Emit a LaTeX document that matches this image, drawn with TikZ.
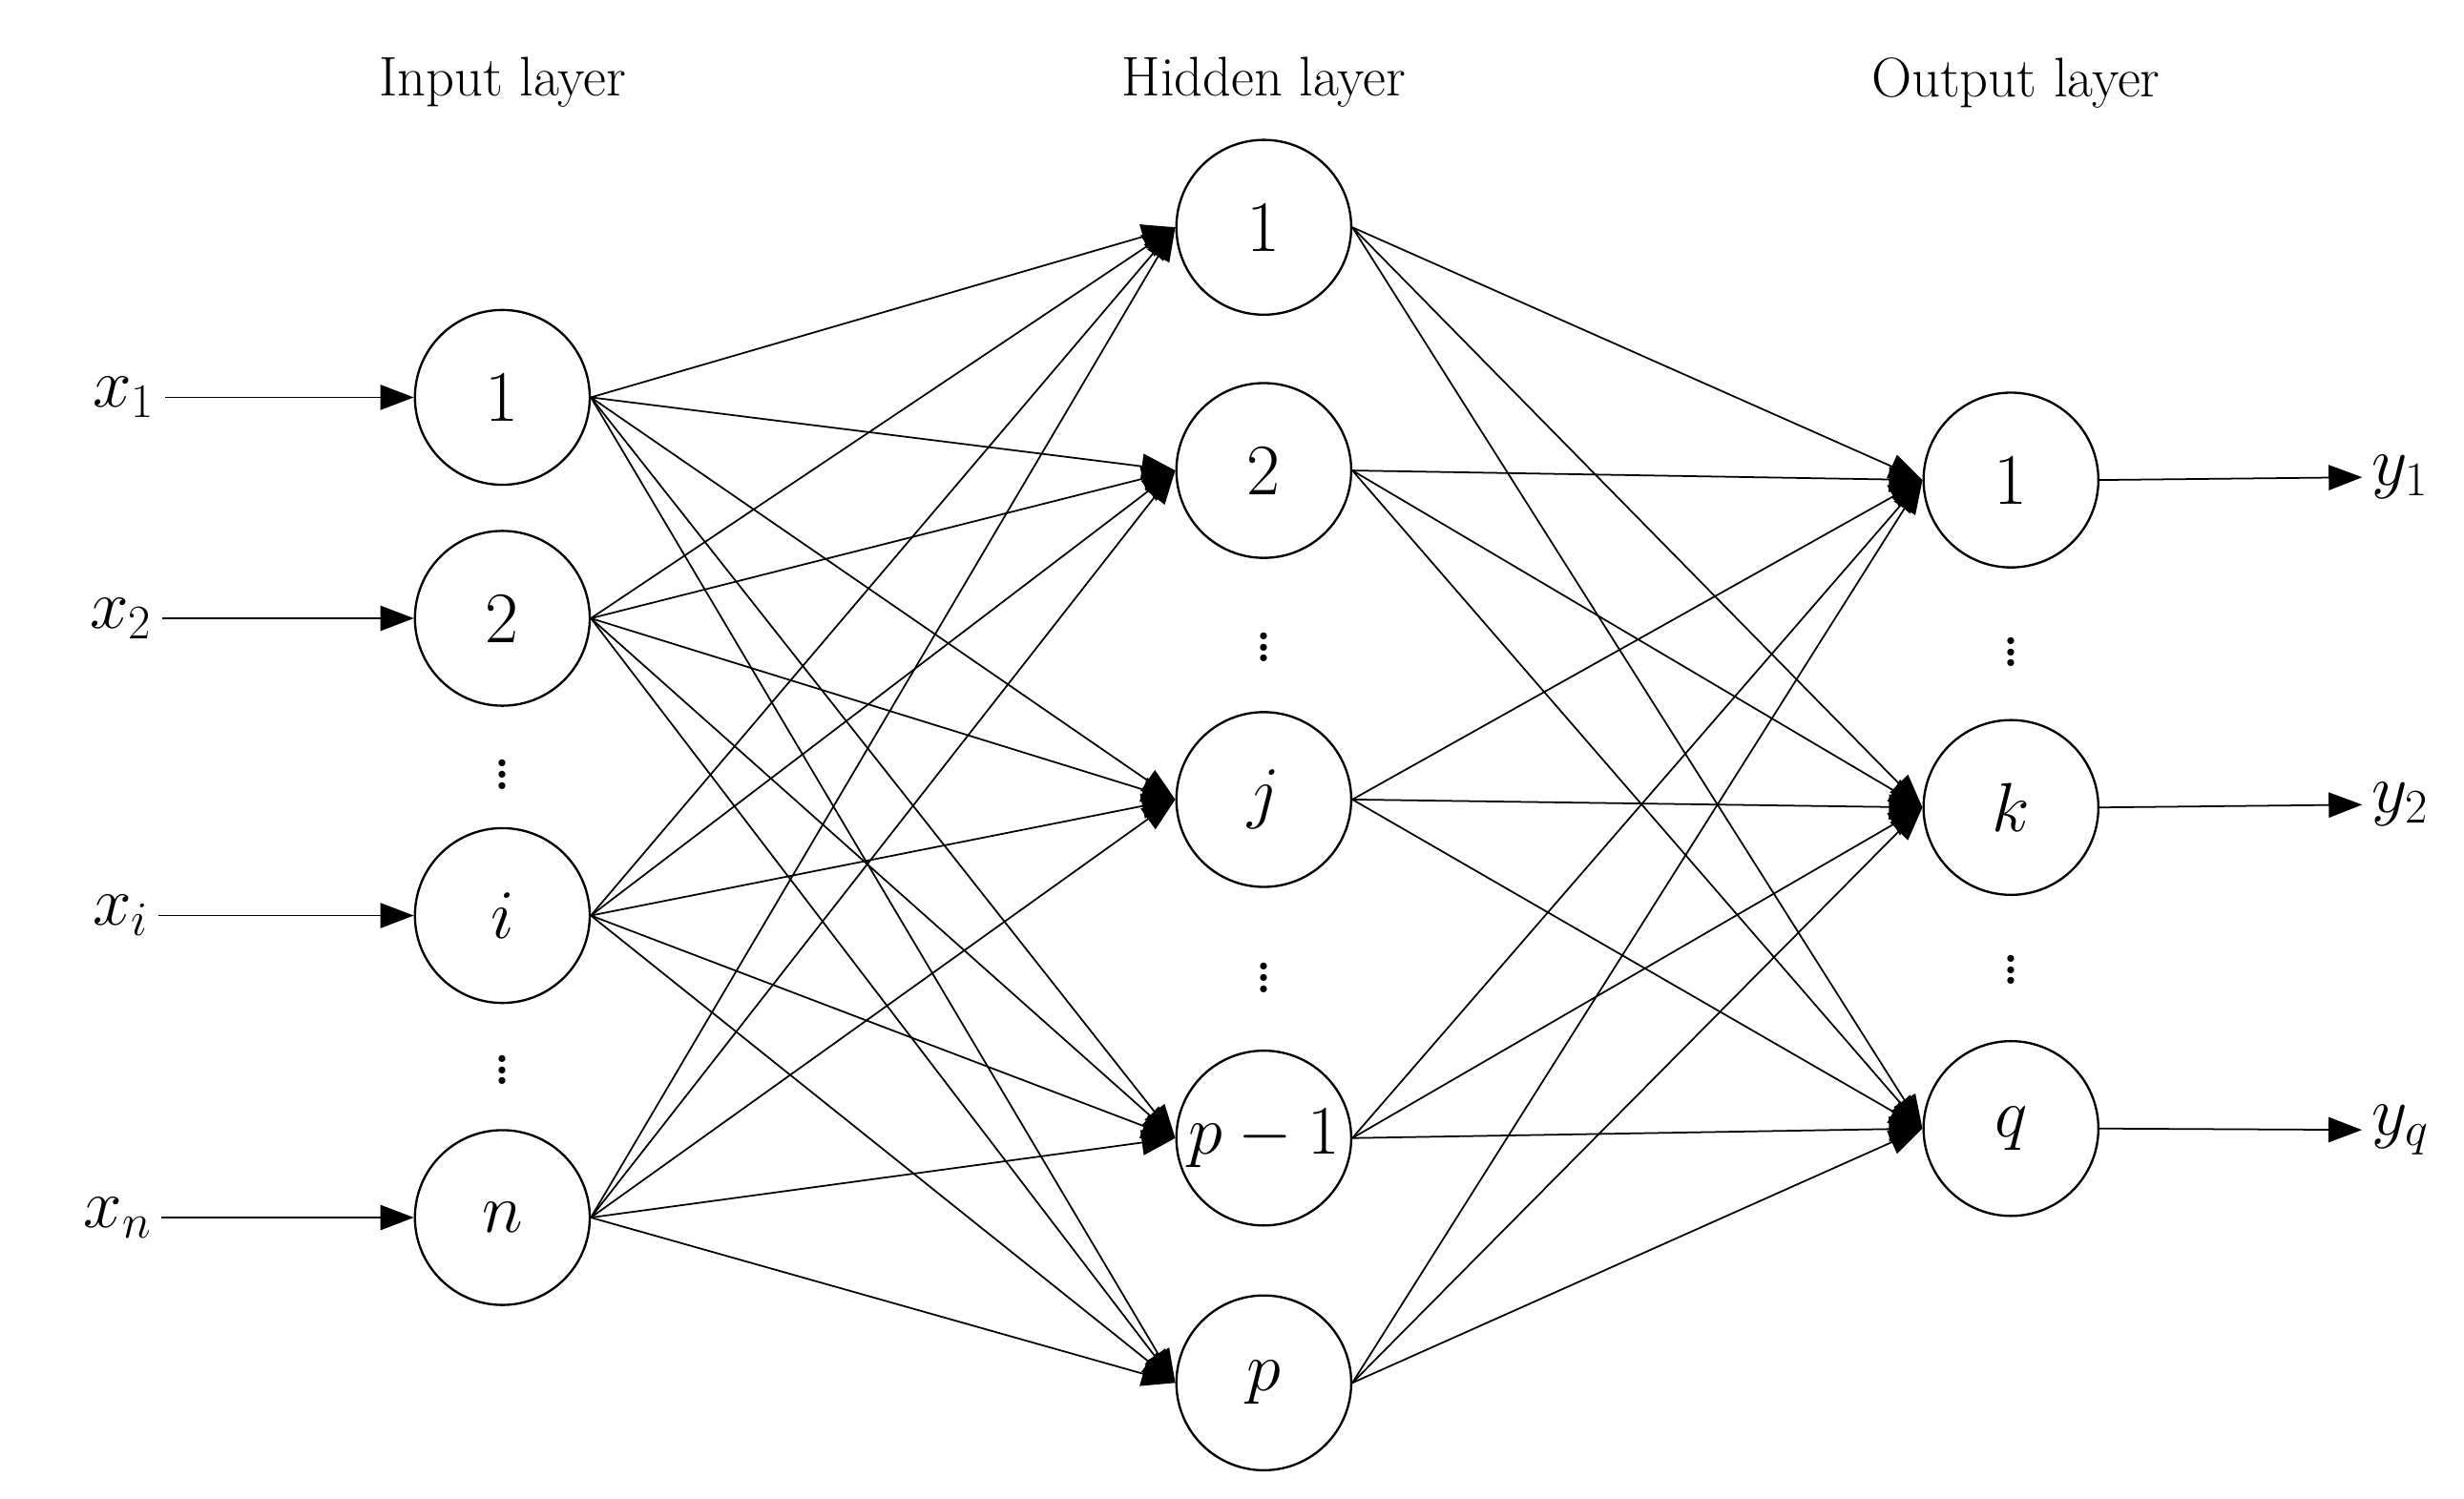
\documentclass[tikz,border=0pt]{standalone}
\usetikzlibrary{arrows.meta}
\begin{document}
\begin{tikzpicture}[x=0.02cm,y=-0.02cm,
  neuron/.style={circle,draw,line width=0.8pt,minimum size=2.2cm,inner sep=0pt,font=\fontsize{26}{30}\selectfont},
  edge/.style={line width=0.6pt,-{Triangle[length=12pt,width=9pt]}},
  title/.style={font=\fontsize{20}{24}\selectfont},
  lab/.style={font=\fontsize{24}{28}\selectfont},
  dots/.style={font=\fontsize{30}{34}\selectfont}]
\useasboundingbox (0,0) rectangle (1550,943);
\node[title] (t1) at (316,52) {Input layer};
\node[title] (t2) at (795,52) {Hidden layer};
\node[title] (t3) at (1268,52) {Output layer};
% input
\node[neuron] (i1) at (316,250) {1};
\node[neuron] (i2) at (316,389) {2};
\node[neuron] (i3) at (316,576) {$i$};
\node[neuron] (i4) at (316,766) {$n$};
% hidden
\node[neuron] (h1) at (795,143) {1};
\node[neuron] (h2) at (795,296) {2};
\node[neuron] (h3) at (795,503) {$j$};
\node[neuron] (h4) at (795,716) {$p-1$};
\node[neuron] (h5) at (795,870) {$p$};
% output
\node[neuron] (o1) at (1265,302) {1};
\node[neuron] (o2) at (1265,508) {$k$};
\node[neuron] (o3) at (1265,710) {$q$};
% dots
\node[dots] (d1) at (316,482) {$\vdots$};
\node[dots] (d2) at (316,668) {$\vdots$};
\node[dots] (d3) at (795,402) {$\vdots$};
\node[dots] (d4) at (795,610) {$\vdots$};
\node[dots] (d5) at (1265,405) {$\vdots$};
\node[dots] (d6) at (1265,605) {$\vdots$};
% inputs labels
\node[lab] (x1) at (78,250) {$x_1$};
\node[lab] (x2) at (76,389) {$x_2$};
\node[lab] (x3) at (76,576) {$x_i$};
\node[lab] (x4) at (74,766) {$x_n$};
\node[lab] (y1) at (1510,300) {$y_1$};
\node[lab] (y2) at (1510,506) {$y_2$};
\node[lab] (y3) at (1510,711) {$y_q$};
\foreach \k in {1,...,4} \draw[edge] (x\k) -- (i\k.west);
\foreach \k in {1,...,3} \draw[edge] (o\k.east) -- (y\k);
\foreach \a in {1,...,4} \foreach \b in {1,...,5} \draw[edge] (i\a.east) -- (h\b.west);
\foreach \a in {1,...,5} \foreach \b in {1,...,3} \draw[edge] (h\a.east) -- (o\b.west);
\end{tikzpicture}
\end{document}
